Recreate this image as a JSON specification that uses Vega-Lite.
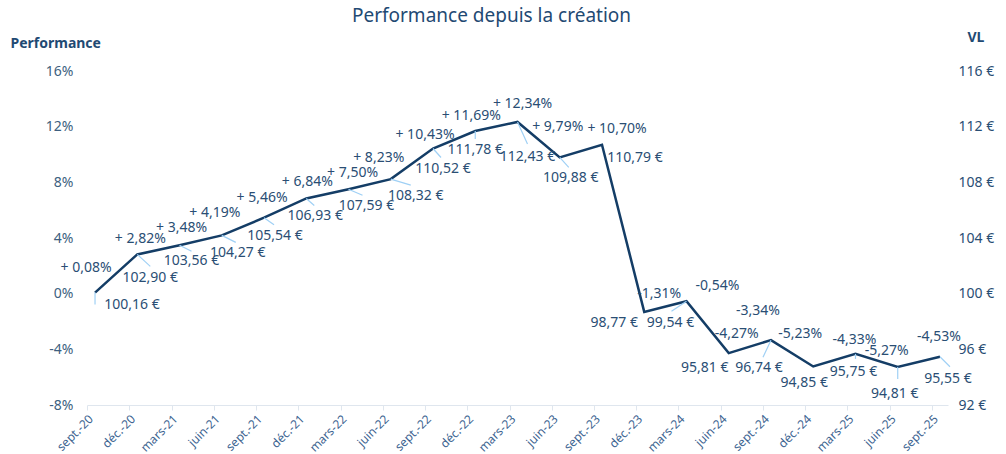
{
  "$schema": "https://vega.github.io/schema/vega-lite/v6.json",
  "width": 861,
  "height": 334,
  "autosize": {"type": "none"},
  "padding": {"left": 87, "top": 71, "right": 58, "bottom": 49},
  "background": "white",
  "title": {"text": "Performance depuis la création", "fontSize": 19, "fontWeight": "normal", "font": "Noto Sans", "color": "#1f4a73", "dx": -26, "offset": 4},
  "config": {"view": {"stroke": null}, "font": "Noto Sans"},
  "data": {"values": [
    {"date": "sept.-20", "perf": 0.08, "vl": 100.16},
    {"date": "déc.-20", "perf": 2.82, "vl": 102.90},
    {"date": "mars-21", "perf": 3.48, "vl": 103.56},
    {"date": "juin-21", "perf": 4.19, "vl": 104.27},
    {"date": "sept.-21", "perf": 5.46, "vl": 105.54},
    {"date": "déc.-21", "perf": 6.84, "vl": 106.93},
    {"date": "mars-22", "perf": 7.50, "vl": 107.59},
    {"date": "juin-22", "perf": 8.23, "vl": 108.32},
    {"date": "sept.-22", "perf": 10.43, "vl": 110.52},
    {"date": "déc.-22", "perf": 11.69, "vl": 111.78},
    {"date": "mars-23", "perf": 12.34, "vl": 112.43},
    {"date": "juin-23", "perf": 9.79, "vl": 109.88},
    {"date": "sept.-23", "perf": 10.70, "vl": 110.79},
    {"date": "déc.-23", "perf": -1.31, "vl": 98.77},
    {"date": "mars-24", "perf": -0.54, "vl": 99.54},
    {"date": "juin-24", "perf": -4.27, "vl": 95.81},
    {"date": "sept.-24", "perf": -3.34, "vl": 96.74},
    {"date": "déc.-24", "perf": -5.23, "vl": 94.85},
    {"date": "mars-25", "perf": -4.33, "vl": 95.75},
    {"date": "juin-25", "perf": -5.27, "vl": 94.81},
    {"date": "sept.-25", "perf": -4.53, "vl": 95.55}
  ]},
  "transform": [
    {"calculate": "(datum.perf > 0 ? '+ ' : '-') + replace(format(abs(datum.perf), '.2f'), '.', ',') + '%'", "as": "plabel"},
    {"calculate": "replace(format(datum.vl, '.2f'), '.', ',') + ' €'", "as": "vlabel"},
    {"calculate": "indexof(['sept.-20','déc.-20','mars-21','juin-21','sept.-21','déc.-21','mars-22','juin-22','sept.-22','déc.-22','mars-23','juin-23','sept.-23','déc.-23','mars-24','juin-24','sept.-24','déc.-24','mars-25','juin-25','sept.-25'], datum.date)", "as": "i"}
  ],
  "encoding": {
    "x": {"field": "date", "type": "ordinal", "sort": null,
      "scale": {"type": "point", "padding": 0.19},
      "axis": {"title": null, "labelAngle": -45, "labelFontSize": 12, "labelColor": "#3b6390", "domainColor": "#dfe6ee", "tickColor": "#dfe6ee", "tickSize": 5, "tickOffset": -8, "labelPadding": 3, "grid": false}}
  },
  "layer": [
    {
      "encoding": {
        "y": {"field": "perf", "type": "quantitative", "scale": {"domain": [-8, 16], "nice": false, "zero": false},
          "axis": {"values": [-8, -4, 0, 4, 8, 12, 16], "labelExpr": "datum.value + '%'", "domain": false, "ticks": false, "grid": false,
            "labelFontSize": 14, "labelColor": "#3d5f80", "labelPadding": 14,
            "title": "Performance", "titleAngle": 0, "titleAlign": "left", "titleBaseline": "middle", "titleX": -77, "titleY": -28, "titleFontSize": 14, "titleFontWeight": "bold", "titleColor": "#1f4a73"}}
      },
      "layer": [
        {"mark": {"type": "line", "color": "#143d66", "strokeWidth": 2.5}},
        {"mark": {"type": "rule", "color": "#9fd0f5", "strokeWidth": 1.2,
           "x2Offset": {"expr": "[0,13,12,14,10,8,14,20,8,0,10,9,0,0,-15,0,-8,0,0,0,10][datum.i]"},
           "y2Offset": {"expr": "[12,12,6,7,7,7,6,6,9,8,22,10,0,0,10,0,17,0,5,12,10][datum.i]"}},
         "encoding": {"x2": {"field": "date"}, "y2": {"field": "perf"}}},
        {"mark": {"type": "text", "fontSize": 14, "color": "#2a4e74",
           "dx": {"expr": "[-9,3,2,-7,-2,1,4,-12,-8,-4,5,-2,15,15,31,8,-13,-13,-1,-11,-1][datum.i]"},
           "dy": {"expr": "[-25,-15,-17,-22,-20,-16,-16,-21,-14,-15,-18,-30,-16,-18,-15,-19,-29,-32,-14,-16,-20][datum.i]"}},
         "encoding": {"text": {"field": "plabel"}}},
        {"mark": {"type": "text", "fontSize": 14, "color": "#2a4e74",
           "dx": {"expr": "[37,13,12,16,11,9,18,25,10,0,10,11,33,-30,-16,-24,-12,-9,-2,-3,8][datum.i]"},
           "dy": {"expr": "[12,24,16,18,18,18,17,17,20,19,35,21,13,11,22,15,28,17,18,27,22][datum.i]"}},
         "encoding": {"text": {"field": "vlabel"}}}
      ]
    },
    {
      "mark": {"type": "point", "opacity": 0},
      "encoding": {
        "y": {"field": "vl", "type": "quantitative", "scale": {"domain": [92, 116], "nice": false, "zero": false},
          "axis": {"orient": "right", "values": [92, 96, 100, 104, 108, 112, 116], "labelExpr": "datum.value + ' €'", "domain": false, "ticks": false, "grid": false,
            "labelFontSize": 14, "labelColor": "#2a4e74", "labelPadding": 10,
            "title": "VL", "titleAngle": 0, "titleAlign": "left", "titleBaseline": "middle", "titleX": 19, "titleY": -34, "titleFontSize": 14, "titleFontWeight": "bold", "titleColor": "#1f4a73"}}
      }
    }
  ],
  "resolve": {"scale": {"y": "independent"}, "axis": {"y": "independent"}}
}
